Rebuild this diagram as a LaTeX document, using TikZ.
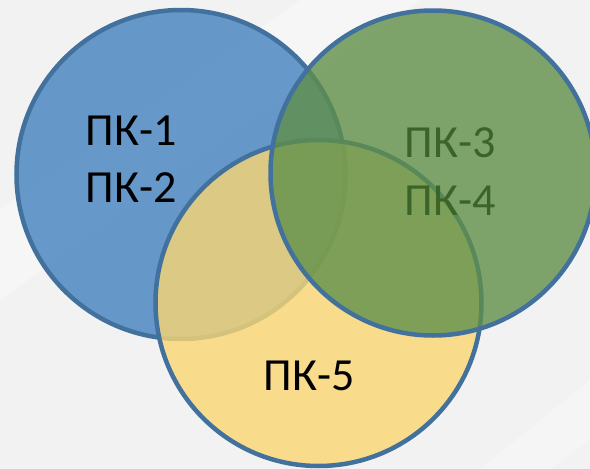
\documentclass[tikz,border=0pt]{standalone}
\usepackage{fontspec}
\setmainfont{Carlito}
\definecolor{bgc}{HTML}{F2F2F2}
\definecolor{edgec}{HTML}{41719C}
\definecolor{bluec}{HTML}{4282BE}
\definecolor{greenc}{HTML}{60904A}
\definecolor{yellowc}{HTML}{FAD773}
\definecolor{greentext}{HTML}{3A6428}
\tikzset{
  venn/.style={circle, draw=edgec, line width=4.5pt, inner sep=0pt, outer sep=0pt, fill opacity=0.8},
  lbl/.style={anchor=base, inner sep=0pt, font=\fontsize{46}{55}\selectfont}
}
\begin{document}
\begin{tikzpicture}[x=1pt,y=-1pt]
\useasboundingbox (0,0) rectangle (590,469);
\fill[bgc] (0,0) rectangle (590,469);
\fill[white, opacity=0.35] (300,0) -- (420,0) -- (0,300) -- (0,210) -- cycle;
\fill[white, opacity=0.25] (480,469) -- (590,380) -- (590,440) -- (550,469) -- cycle;
\node[venn, fill=bluec, minimum size=329pt] (blue) at (181,174.5) {};
\node[venn, fill=yellowc, minimum size=326pt] (yellow) at (318.5,303) {};
\node[venn, fill=greenc, minimum size=325pt] (green) at (433,173) {};
\node[lbl] (pk1) at (131,145) {ПК-1};
\node[lbl] (pk2) at (131,202) {ПК-2};
\node[lbl, text=greentext] (pk3) at (450,157) {ПК-3};
\node[lbl, text=greentext] (pk4) at (450,215) {ПК-4};
\node[lbl] (pk5) at (309,390) {ПК-5};
\end{tikzpicture}
\end{document}
